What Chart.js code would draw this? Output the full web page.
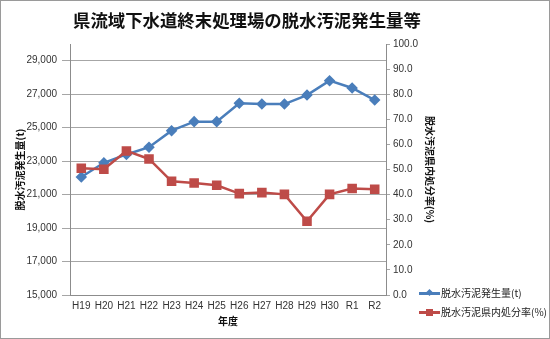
<!DOCTYPE html>
<html lang="ja">
<head>
<meta charset="UTF-8">
<title>県流域下水道終末処理場の脱水汚泥発生量等</title>
<style>
    body { margin: 0; background: #fff; }
    #wrap { position: relative; width: 550px; height: 339px; overflow: hidden; }
    #chart { position: absolute; left: 0; top: 0; }
    #frame {
        position: absolute; left: 0; top: 0; width: 550px; height: 339px;
        box-sizing: border-box; border: 1px solid #9a9a9a; pointer-events: none;
    }
    #title {
        position: absolute; left: 73px; top: 8px; margin: 0;
        font: bold 17.4px "Noto Sans CJK JP", sans-serif; color: #111;
        line-height: 24px; white-space: nowrap;
    }
    .legend { position: absolute; left: 419px; font: 10px "Noto Sans CJK JP", sans-serif; color: #222; white-space: nowrap; }
    .legend .line { position: absolute; left: 0; top: 7px; width: 21px; height: 2.5px; }
    .legend .mark { position: absolute; }
    .legend span.txt { position: absolute; left: 22px; top: 0; line-height: 16px; }
</style>
</head>
<body>
<div id="wrap">
    <canvas id="chart" width="550" height="339"></canvas>
    <h1 id="title">県流域下水道終末処理場の脱水汚泥発生量等</h1>
    <div class="legend" style="top:285px">
        <div class="line" style="background:#4a7ebb"></div>
        <div class="mark" style="left:8px;top:5px;width:5px;height:5px;background:#4a7ebb;transform:rotate(45deg)"></div>
        <span class="txt">脱水汚泥発生量(t)</span>
    </div>
    <div class="legend" style="top:304px">
        <div class="line" style="background:#be4b48"></div>
        <div class="mark" style="left:7px;top:4.5px;width:7px;height:7px;background:#be4b48"></div>
        <span class="txt">脱水汚泥県内処分率(%)</span>
    </div>
    <div id="frame"></div>
</div>

<script src="https://cdn.jsdelivr.net/npm/chart.js"></script>
<script>
    // 年度
    const years = ['H19', 'H20', 'H21', 'H22', 'H23', 'H24', 'H25', 'H26', 'H27', 'H28', 'H29', 'H30', 'R1', 'R2'];
    // 脱水汚泥発生量 (t)
    const sludgeTons = [22050, 22900, 23400, 23830, 24820, 25360, 25360, 26460, 26410, 26410, 26950, 27810, 27370, 26650];
    // 脱水汚泥県内処分率 (%)
    const inPrefRate = [50.5, 50.1, 57.4, 54.2, 45.3, 44.6, 43.7, 40.4, 40.8, 40.1, 29.4, 40.1, 42.4, 42.1];
    // 左軸の目盛
    const tonTicks = [15000, 17000, 19000, 21000, 23000, 25000, 27000, 29000];

    const tickFont = { family: '"Liberation Sans", Arial, sans-serif', size: 10 };
    const titleFont = { family: '"Noto Sans CJK JP", sans-serif', size: 10, weight: 'bold' };
    const gridGray = '#a6a6a6';

    new Chart(document.getElementById('chart'), {
        type: 'line',
        data: {
            labels: years,
            datasets: [
                {
                    label: '脱水汚泥発生量(t)',
                    data: sludgeTons,
                    yAxisID: 'y',
                    borderColor: '#4a7ebb',
                    backgroundColor: '#4a7ebb',
                    borderWidth: 2.5,
                    pointStyle: 'rectRot',
                    pointRadius: 4,
                    tension: 0,
                    order: 2
                },
                {
                    label: '脱水汚泥県内処分率(%)',
                    data: inPrefRate,
                    yAxisID: 'y1',
                    borderColor: '#be4b48',
                    backgroundColor: '#be4b48',
                    borderWidth: 2.5,
                    pointStyle: 'rect',
                    pointRadius: 5,
                    tension: 0,
                    order: 1
                }
            ]
        },
        options: {
            responsive: false,
            animation: false,
            layout: { padding: { top: 44, left: 0, right: 0, bottom: 0 } },
            plugins: {
                legend: { display: false },
                title: { display: false },
                tooltip: { enabled: false }
            },
            scales: {
                x: {
                    offset: true,
                    grid: { display: true, drawOnChartArea: false, drawTicks: false },
                    border: { display: true, color: '#8c8c8c' },
                    ticks: { font: tickFont, color: '#333', padding: 5, maxRotation: 0, autoSkip: false },
                    title: { display: true, text: '年度', font: titleFont, color: '#111', padding: { top: 0, bottom: 12 } },
                    afterFit: s => { s.height = 44; }
                },
                y: {
                    position: 'left',
                    min: 15000,
                    max: 30000,
                    afterBuildTicks: s => { s.ticks = tonTicks.map(v => ({ value: v })); },
                    grid: { color: gridGray, tickLength: 8, tickColor: gridGray },
                    border: { display: true, color: '#8c8c8c' },
                    ticks: {
                        font: tickFont,
                        color: '#333',
                        padding: 5,
                        callback: v => v.toLocaleString('en-US')
                    },
                    title: { display: true, text: '脱水汚泥発生量(t)', font: titleFont, color: '#111', padding: { top: 14, bottom: 0 } },
                    afterFit: s => { s.width = 70; }
                },
                y1: {
                    position: 'right',
                    min: 0,
                    max: 100,
                    grid: { drawOnChartArea: false, tickLength: 4, tickColor: gridGray },
                    border: { display: true, color: '#8c8c8c' },
                    ticks: {
                        stepSize: 10,
                        font: tickFont,
                        color: '#333',
                        padding: 3,
                        callback: v => v.toFixed(1)
                    },
                    title: { display: true, text: '脱水汚泥県内処分率(%)', font: titleFont, color: '#111', padding: { top: 114, bottom: 0 } },
                    afterFit: s => { s.width = 164; }
                }
            }
        }
    });
</script>
</body>
</html>
